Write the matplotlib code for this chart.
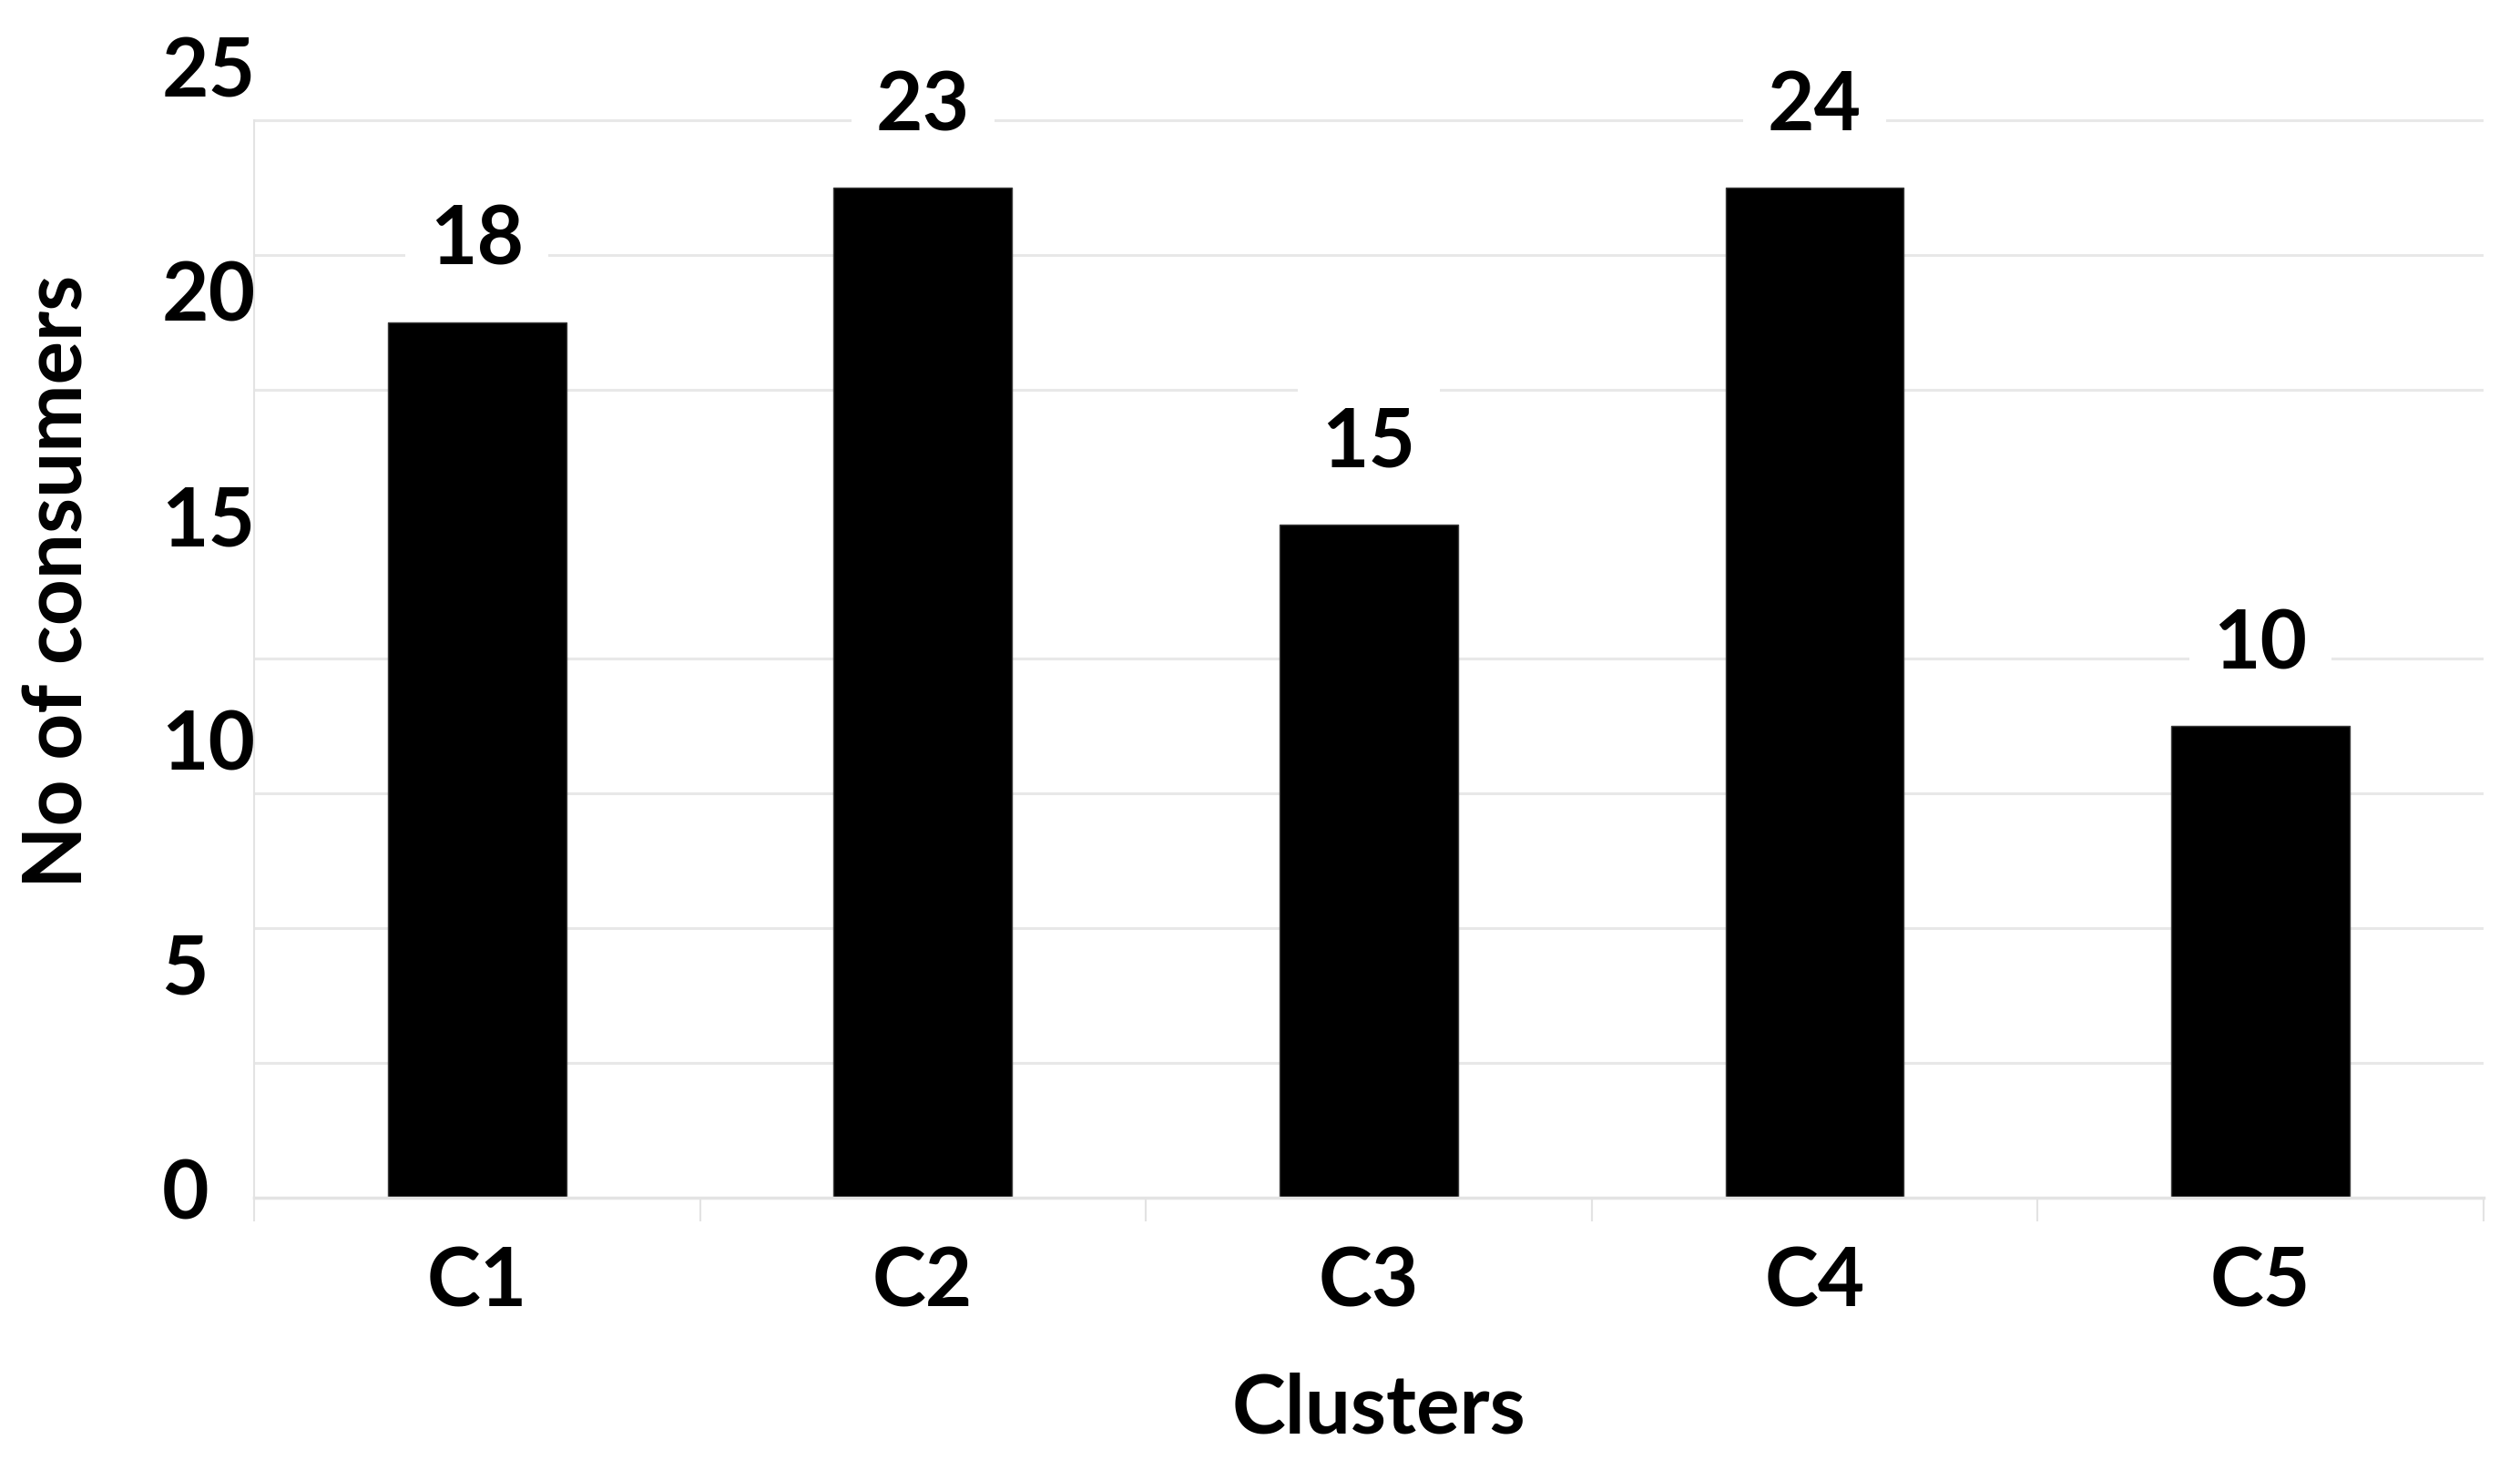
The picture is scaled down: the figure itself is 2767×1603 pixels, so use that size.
import numpy as np
import matplotlib
matplotlib.use("Agg")
import matplotlib.pyplot as plt
from matplotlib.transforms import ScaledTranslation

clusters = ["C1", "C2", "C3", "C4", "C5"]
bar_heights = [19.5, 22.5, 15.0, 22.5, 10.5]   # bar tops as drawn in the picture
count_labels = ["18", "23", "15", "24", "10"]  # numbers printed above the bars
y_ticks = [0, 5, 10, 15, 20, 25]
grid_steps = np.arange(0, 25, 3)

plt.rcParams['font.family'] = ['Lato', 'DejaVu Sans']
plt.rcParams['font.weight'] = 'bold'
fs = 64

fig = plt.figure(figsize=(27.67, 16.03), dpi=100)
ax = fig.add_axes([0.1008, 0.1797, 0.8847, 0.7841])

x = np.arange(len(clusters))
ax.bar(x, bar_heights, width=0.4, color='black', edgecolor='#3a3a3a', linewidth=1, zorder=2)

for xi, h, lab in zip(x, bar_heights, count_labels):
    ax.annotate(lab, xy=(xi, h), xytext=(0, 64), textcoords='offset points',
                ha='center', va='center', fontsize=fs, fontweight='bold', zorder=3,
                bbox=dict(boxstyle='square,pad=0.3', facecolor='white', edgecolor='none'))

ax.set_xlim(-0.5, 4.5)
ax.set_ylim(0, 25.5)

# light horizontal gridlines every 3 units
ax.set_yticks(grid_steps, minor=True)
ax.grid(which='minor', axis='y', color='#e8e8e8', linewidth=2.2, zorder=0)
ax.set_axisbelow(True)

ax.set_yticks(y_ticks)
ax.set_yticklabels([str(v) for v in y_ticks], fontsize=fs, fontweight='bold')
ax.tick_params(axis='y', which='both', length=0, pad=73)
shift_up = ScaledTranslation(0, 0.1, fig.dpi_scale_trans)
for lbl in ax.get_yticklabels():
    lbl.set_horizontalalignment('left')
    lbl.set_transform(lbl.get_transform() + shift_up)

ax.set_xticks(x)
ax.set_xticklabels(clusters, fontsize=fs, fontweight='bold')
ax.set_xticks(np.arange(-0.5, 5, 1), minor=True)
ax.tick_params(axis='x', which='major', length=0, pad=38)
ax.tick_params(axis='x', which='minor', length=19, width=1.5, color='#e3e3e3')

for side in ['top', 'right']:
    ax.spines[side].set_visible(False)
ax.spines['left'].set_bounds(0, 24)
ax.spines['left'].set_color('#e3e3e3')
ax.spines['left'].set_linewidth(1.5)
ax.spines['bottom'].set_color('#e3e3e3')
ax.spines['bottom'].set_linewidth(2.5)

ax.set_xlabel("Clusters", fontsize=fs, fontweight='bold', va='center')
ax.xaxis.set_label_coords(0.5045, -0.185)
ax.set_ylabel("No of consumers", fontsize=fs, fontweight='bold', va='center')
ax.yaxis.set_label_coords(-0.0874, 0.538)

fig.savefig("out.png", dpi=100, facecolor='white')
